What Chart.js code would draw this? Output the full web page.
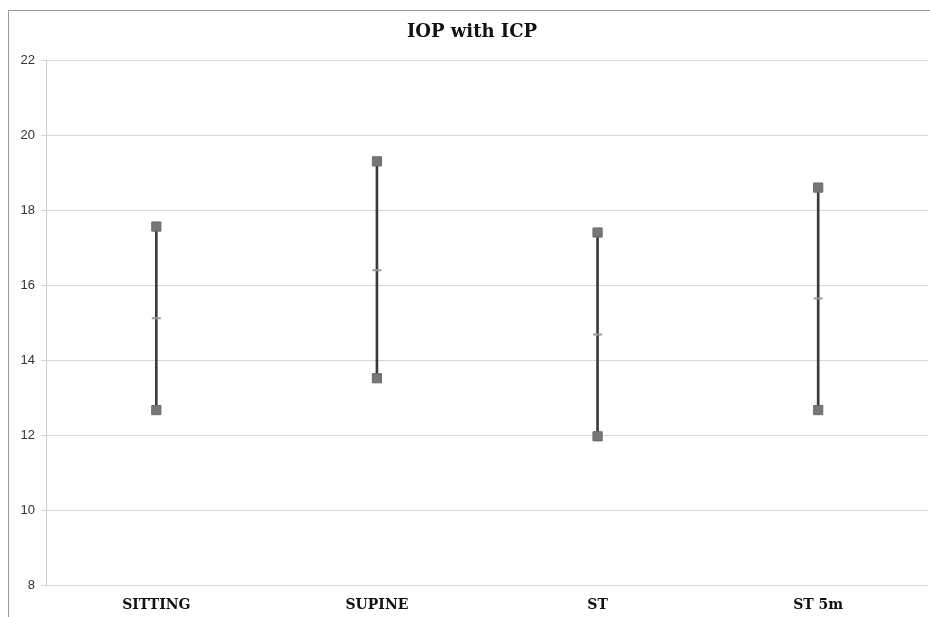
<!DOCTYPE html>
<html>
<head>
<meta charset="utf-8">
<script src="https://cdn.jsdelivr.net/npm/chart.js@4.4.1/dist/chart.umd.min.js"></script>
<style>
  html, body { margin: 0; padding: 0; background: #fff; overflow: hidden; }
  #frame {
    position: absolute; left: 8px; top: 10px;
    width: 922px; height: 607px;
    border-left: 1px solid #9a9a9a; border-top: 1px solid #9a9a9a;
    box-sizing: border-box; overflow: hidden;
  }
  #chart { display: block; }
</style>
</head>
<body>
<div id="frame"><canvas id="chart" width="927" height="606"></canvas></div>
<script>
  // positions and read-off values (mmHg)
  const positions = ['SITTING', 'SUPINE', 'ST', 'ST 5m'];
  const highValues = [17.57, 19.31, 17.41, 18.61];
  const lowValues = [12.67, 13.52, 11.97, 12.67];
  const meanValues = [15.12, 16.4, 14.69, 15.65];
  const yTicks = [8, 10, 12, 14, 16, 18, 20, 22];

  const ranges = positions.map((p, i) => [lowValues[i], highValues[i]]);

  const ctx = document.getElementById('chart');

  new Chart(ctx, {
    type: 'bar',
    data: {
      labels: positions,
      datasets: [
        {
          label: 'High',
          type: 'line',
          data: highValues,
          showLine: false,
          pointStyle: 'rect',
          pointRadius: 6.5,
          pointBackgroundColor: '#777',
          pointBorderColor: '#6a6a6a',
          pointBorderWidth: 1,
          order: 0
        },
        {
          label: 'Low',
          type: 'line',
          data: lowValues,
          showLine: false,
          pointStyle: 'rect',
          pointRadius: 6.5,
          pointBackgroundColor: '#777',
          pointBorderColor: '#6a6a6a',
          pointBorderWidth: 1,
          order: 0
        },
        {
          label: 'Mean',
          type: 'line',
          data: meanValues,
          showLine: false,
          pointStyle: 'line',
          pointRadius: 4.5,
          pointBorderColor: '#999',
          pointBorderWidth: 2,
          order: 0
        },
        {
          label: 'Range',
          data: ranges,
          backgroundColor: '#3a3a3a',
          borderWidth: 0,
          barThickness: 2,
          order: 1
        }
      ]
    },
    options: {
      responsive: false,
      animation: false,
      layout: { padding: { top: 11, right: 1, left: 0, bottom: 0 } },
      plugins: {
        legend: { display: false },
        tooltip: { enabled: false },
        title: {
          display: true,
          text: 'IOP with ICP',
          color: '#111',
          font: { family: 'DejaVu Serif', size: 18, weight: 'bold' },
          padding: { top: 0, bottom: 17 }
        }
      },
      scales: {
        x: {
          grid: { display: false, drawTicks: false },
          border: { display: false },
          ticks: {
            color: '#111',
            padding: 12,
            font: { family: 'DejaVu Serif', size: 14, weight: 'bold' }
          },
          afterFit: s => { s.height = 32; }
        },
        y: {
          min: 8,
          max: 22,
          afterBuildTicks: s => { s.ticks = yTicks.map(v => ({ value: v })); },
          grid: { color: '#d6d6d6', lineWidth: 1, tickLength: 5 },
          border: { display: true, color: '#cfcfcf' },
          ticks: {
            color: '#333',
            padding: 6,
            font: { family: 'Liberation Sans', size: 13 }
          },
          afterFit: s => { s.width = 37; }
        }
      }
    }
  });
</script>
</body>
</html>
